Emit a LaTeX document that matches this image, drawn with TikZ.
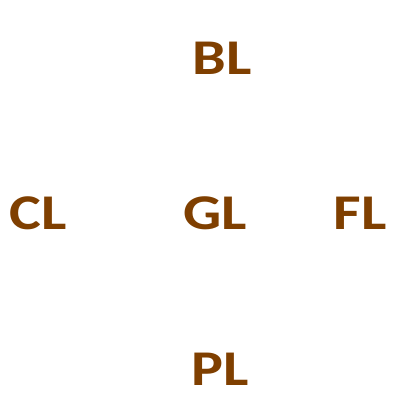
\documentclass[tikz,border=0pt]{standalone}
\usepackage{fontspec}
\setmainfont{Carlito}
\definecolor{lblbrown}{HTML}{7F3F00}
\begin{document}
\begin{tikzpicture}[x=1pt,y=1pt,
  lbl/.style={text=lblbrown,font=\bfseries\fontsize{50}{50}\selectfont,anchor=base,inner sep=0pt,xscale=1.2}]
\useasboundingbox (0,0) rectangle (400,400);
\node[lbl] (BL) at (222,325) {BL};
\node[lbl] (CL) at (38,171) {CL};
\node[lbl] (GL) at (215,171) {GL};
\node[lbl] (FL) at (360,171) {FL};
\node[lbl] (PL) at (220,14) {PL};
\end{tikzpicture}
\end{document}
